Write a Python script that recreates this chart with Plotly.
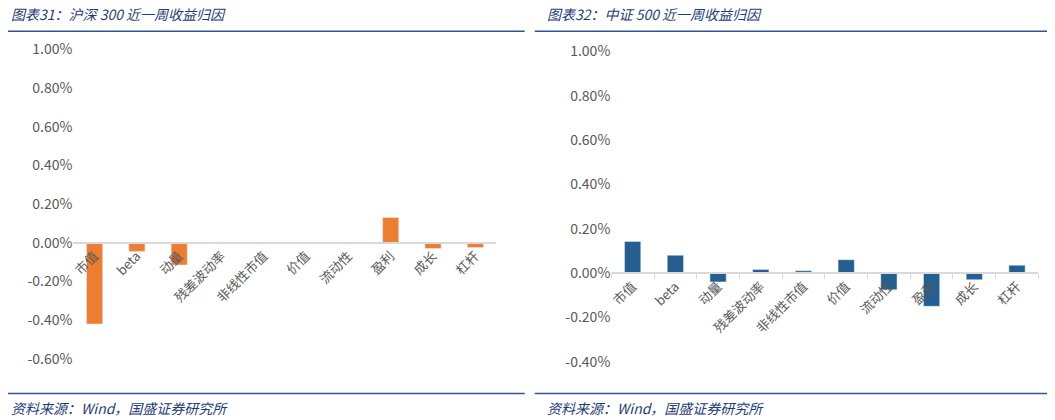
import plotly.graph_objects as go

categories = ["市值", "beta", "动量", "残差波动率", "非线性市值", "价值", "流动性", "盈利", "成长", "杠杆"]
hs300 = [-0.42, -0.045, -0.115, 0.004, -0.005, 0.0, -0.005, 0.13, -0.03, -0.025]
zz500 = [0.142, 0.08, -0.04, 0.016, 0.01, 0.06, -0.075, -0.15, -0.03, 0.035]

left_ticks = [1.0, 0.8, 0.6, 0.4, 0.2, 0.0, -0.2, -0.4, -0.6]
right_ticks = [1.0, 0.8, 0.6, 0.4, 0.2, 0.0, -0.2, -0.4]

GRAY = "#595959"
TITLE_BLUE = "#1f3c7a"
LINE_BLUE = "#2f5597"
FONT = "Noto Sans CJK SC"


# convert a target pixel position into paper coordinates (corrected for the rendered offset)
def px(p):
    return (p - 10) / 0.990 / 1055


def py(p):
    return 1 - (p - 17.6) / 0.957 / 420


fig = go.Figure()
fig.add_trace(go.Bar(x=categories, y=[v / 100 for v in hs300], marker_color="#ed7d31",
                     xaxis="x", yaxis="y"))
fig.add_trace(go.Bar(x=categories, y=[v / 100 for v in zz500], marker_color="#255e91",
                     xaxis="x2", yaxis="y2"))


def yaxis(dom, rng, ticks, anchor):
    return dict(domain=dom, range=[rng[0] / 100, rng[1] / 100], tickvals=[t / 100 for t in ticks],
                ticktext=[f"{t:.2f}%" for t in ticks], showgrid=False, zeroline=False,
                tickfont=dict(color=GRAY, size=14, family=FONT), anchor=anchor, ticks="",
                ticklen=0)


def xaxis(dom, pos, ticks):
    return dict(domain=dom, anchor="free", position=pos, showline=True, linecolor="#d9d9d9",
                linewidth=1.5, tickangle=-45, tickfont=dict(color=GRAY, size=13, family=FONT),
                ticks=ticks, tickson="boundaries", ticklen=5, tickcolor="#d9d9d9",
                showgrid=False, zeroline=False)


ly = [py(359), py(48)]
ry = [py(362), py(50)]
lpos = ly[0] + 0.6 / 1.6 * (ly[1] - ly[0])
rpos = ry[0] + 0.4 / 1.4 * (ry[1] - ry[0])

fig.update_layout(
    width=1055, height=420, margin=dict(l=0, r=0, t=0, b=0),
    paper_bgcolor="white", plot_bgcolor="white", showlegend=False, bargap=0.62,
    xaxis=xaxis([px(72), px(492)], lpos, ""),
    yaxis=yaxis(ly, [-0.6, 1.0], left_ticks, "x"),
    xaxis2=xaxis([px(606), px(1030)], rpos, "outside"),
    yaxis2=yaxis(ry, [-0.4, 1.0], right_ticks, "x2"),
)

titles = [(8, "图表31：沪深 300 近一周收益归因"), (540, "图表32：中证 500 近一周收益归因")]
for x0, t in titles:
    fig.add_annotation(xref="paper", yref="paper", x=px(x0), y=py(13), text=t, showarrow=False,
                       xanchor="left", yanchor="middle",
                       font=dict(color=TITLE_BLUE, size=14, family=FONT, style="italic"))
    fig.add_annotation(xref="paper", yref="paper", x=px(x0), y=py(408),
                       text="资料来源：Wind，国盛证券研究所", showarrow=False,
                       xanchor="left", yanchor="middle",
                       font=dict(color=TITLE_BLUE, size=14, family=FONT, style="italic"))

for x0, x1 in [(5, 520), (530, 1050)]:
    for yy in [30, 394]:
        fig.add_shape(type="line", xref="paper", yref="paper", x0=px(x0), x1=px(x1),
                      y0=py(yy), y1=py(yy), line=dict(color=LINE_BLUE, width=1.5))

fig.write_html("out.html")
